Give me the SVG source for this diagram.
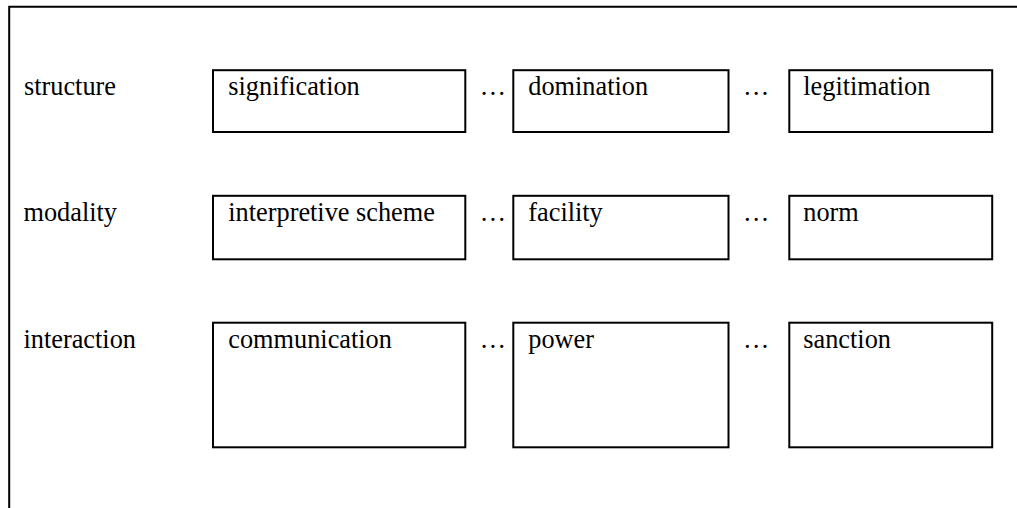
<svg xmlns="http://www.w3.org/2000/svg" width="1017" height="508" viewBox="0 0 1017 508">
<style>
text{font-family:"Liberation Serif","Times New Roman",serif;font-size:26.3px;fill:#000}
.box{fill:#fff;stroke:#000;stroke-width:2}
.frame{fill:none;stroke:#000;stroke-width:2}
</style>
<rect width="1017" height="508" fill="#fff"/>
<path class="frame" d="M9.2,510 V6.7 H1020"/>
<g id="row-labels">
<text x="24" y="95">structure</text>
<text x="23.5" y="220.7">modality</text>
<text x="23.5" y="347.7">interaction</text>
</g>
<g id="connectors">
<text x="479.8" y="95">…</text><text x="743.1" y="95">…</text>
<text x="479.8" y="220.7">…</text><text x="743.1" y="220.7">…</text>
<text x="479.8" y="347.7">…</text><text x="743.1" y="347.7">…</text>
</g>
<g id="signification"><rect class="box" x="213" y="70.2" width="252.3" height="61.8"/><text x="228.3" y="95">signification</text></g>
<g id="domination"><rect class="box" x="513.3" y="70.2" width="215.2" height="61.8"/><text x="528.3" y="95">domination</text></g>
<g id="legitimation"><rect class="box" x="789.3" y="70.2" width="202.9" height="61.8"/><text x="803.3" y="95">legitimation</text></g>
<g id="interpretive-scheme"><rect class="box" x="213" y="195.8" width="252.3" height="63.5"/><text x="228.3" y="220.7">interpretive scheme</text></g>
<g id="facility"><rect class="box" x="513.3" y="195.8" width="215.2" height="63.5"/><text x="528.3" y="220.7">facility</text></g>
<g id="norm"><rect class="box" x="789.3" y="195.8" width="202.9" height="63.5"/><text x="803.3" y="220.7">norm</text></g>
<g id="communication"><rect class="box" x="213" y="322.7" width="252.3" height="124.6"/><text x="228.3" y="347.7">communication</text></g>
<g id="power"><rect class="box" x="513.3" y="322.7" width="215.2" height="124.6"/><text x="528.3" y="347.7">power</text></g>
<g id="sanction"><rect class="box" x="789.3" y="322.7" width="202.9" height="124.6"/><text x="803.3" y="347.7">sanction</text></g>
</svg>
